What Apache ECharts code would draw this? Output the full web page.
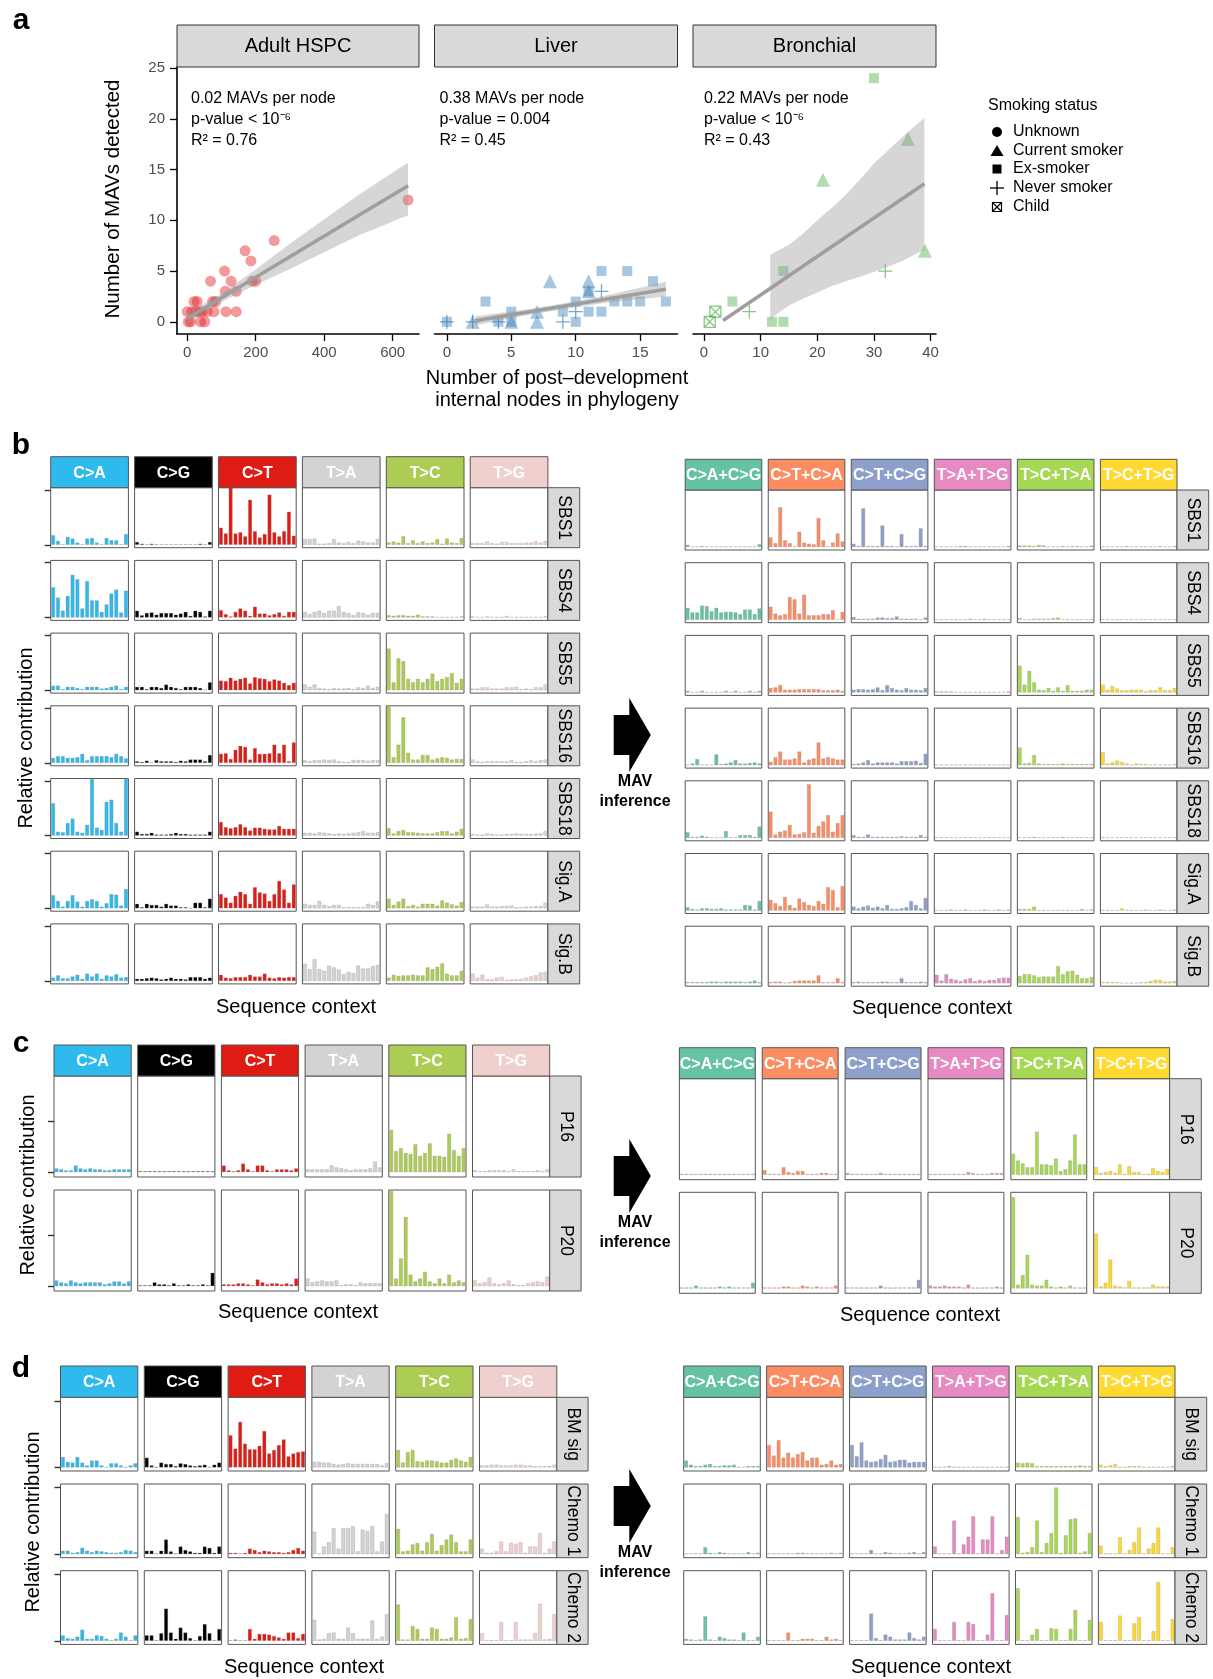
<!DOCTYPE html>
<html>
<head>
<meta charset="utf-8">
<script src="https://cdn.jsdelivr.net/npm/echarts@6/dist/echarts.min.js"></script>
<style>
  html, body { margin: 0; padding: 0; background: #fff; }
  #main { width: 1213px; height: 1679px; }
</style>
</head>
<body>
<div id="main"></div>
<script>
// ---------- panel a : scatter data ----------
const hspcX = [0, 3, 10, 13, 20, 29, 39, 44, 51, 58, 68, 74, 78, 83, 109, 111, 113, 128, 143, 143, 169, 186, 190, 200, 254, 645, 25, 35];
const hspcY = [1, 0, 0, 1, 2, 2, 0, 1, 0, 1, 4, 2, 1, 2, 5, 3, 1, 4, 3, 1, 7, 6, 4, 4, 8, 12, 1, 1];

const liverX = [0, 0, 2, 2, 3, 4, 4, 5, 5, 5, 7, 7, 8, 9, 9, 10, 10, 10, 11, 11, 11, 11, 12, 12, 12, 13, 14, 14, 15, 16, 17];
const liverY = [0, 0, 0, 0, 2, 0, 0, 0, 0, 1, 0, 1, 4, 1, 0, 0, 2, 1, 4, 3, 3, 1, 3, 1, 5, 2, 5, 2, 2, 4, 2];
const liverStatus = ['Never smoker', 'Ex-smoker', 'Never smoker', 'Current smoker', 'Ex-smoker', 'Ex-smoker', 'Never smoker',
  'Ex-smoker', 'Current smoker', 'Ex-smoker', 'Current smoker', 'Current smoker', 'Current smoker', 'Ex-smoker', 'Never smoker',
  'Ex-smoker', 'Ex-smoker', 'Never smoker', 'Current smoker', 'Current smoker', 'Ex-smoker', 'Ex-smoker', 'Never smoker',
  'Ex-smoker', 'Ex-smoker', 'Ex-smoker', 'Ex-smoker', 'Ex-smoker', 'Ex-smoker', 'Ex-smoker', 'Ex-smoker'];

const bronchX = [30, 36, 21, 39, 32, 14, 5, 2, 1, 8, 12, 14];
const bronchY = [24, 18, 14, 7, 5, 5, 2, 1, 0, 1, 0, 0];
const bronchStatus = ['Ex-smoker', 'Current smoker', 'Current smoker', 'Current smoker', 'Never smoker', 'Ex-smoker',
  'Ex-smoker', 'Child', 'Child', 'Never smoker', 'Ex-smoker', 'Ex-smoker'];

// regression lines and confidence bands
const hspcFitX = [3, 645], hspcFitY = [0.4, 13.4];
const hspcBandX = [0, 50, 100, 200, 300, 400, 500, 645];
const hspcBandLo = [-0.2, 0.9, 1.95, 3.65, 5.2, 6.85, 8.5, 10.5];
const hspcBandHi = [0.9, 1.8, 2.8, 5.15, 7.7, 10.1, 12.5, 15.7];

const liverFitX = [2.2, 17], liverFitY = [0.1, 3.2];
const liverBandX = [2.2, 6, 9, 12, 15, 17];
const liverBandLo = [-0.35, 0.6, 1.25, 1.8, 2.25, 2.5];
const liverBandHi = [0.55, 1.2, 1.8, 2.5, 3.35, 3.95];

const bronchFitX = [3.35, 38.9], bronchFitY = [0.13, 13.6];
const bronchBandX = [11.7, 13, 15, 17.5, 20, 22.5, 25, 27.5, 30, 32.5, 35, 38.9];
const bronchBandLo = [0.2, 0.85, 1.6, 2.3, 2.9, 3.5, 4.0, 4.45, 4.9, 5.45, 6.0, 7.1];
const bronchBandHi = [6.6, 7.0, 7.6, 8.7, 10.0, 11.2, 12.5, 14.0, 15.6, 16.9, 18.2, 20.1];

// ---------- panels b-d : 96-channel profiles (16 contexts x 6 types per row) ----------
const contexts = ['A_A', 'A_C', 'A_G', 'A_T', 'C_A', 'C_C', 'C_G', 'C_T', 'G_A', 'G_C', 'G_G', 'G_T', 'T_A', 'T_C', 'T_G', 'T_T'];
const mutTypes = ['C>A', 'C>G', 'C>T', 'T>A', 'T>C', 'T>G'];
const mavTypes = ['C>A+C>G', 'C>T+C>A', 'C>T+C>G', 'T>A+T>G', 'T>C+T>A', 'T>C+T>G'];
const bRows = ['SBS1', 'SBS4', 'SBS5', 'SBS16', 'SBS18', 'Sig.A', 'Sig.B'];
const cRows = ['P16', 'P20'];
const dRows = ['BM sig', 'Chemo 1', 'Chemo 2'];

const sbs1 = [
  [17, 7, 1, 14, 11, 4, 1, 11, 12, 4, 1, 12, 8, 8, 1, 19],
  [5, 2, 1, 2, 1, 1, 1, 1, 1, 1, 1, 1, 1, 2, 1, 5],
  [30, 20, 100, 20, 22, 15, 79, 24, 13, 19, 88, 22, 15, 24, 58, 16],
  [10, 10, 11, 2, 2, 3, 10, 4, 3, 5, 3, 7, 6, 4, 4, 10],
  [4, 6, 4, 15, 3, 8, 3, 6, 3, 4, 10, 2, 11, 4, 3, 12],
  [3, 3, 3, 6, 3, 2, 5, 5, 3, 3, 3, 4, 4, 6, 4, 7]
];
const sbs4 = [
  [53, 35, 12, 38, 75, 67, 16, 64, 30, 30, 10, 23, 42, 49, 9, 47],
  [12, 4, 8, 9, 5, 8, 8, 8, 5, 7, 10, 3, 12, 10, 2, 12],
  [13, 6, 2, 10, 16, 12, 3, 19, 7, 7, 4, 6, 9, 3, 10, 10],
  [10, 6, 10, 12, 8, 12, 12, 20, 10, 8, 4, 9, 8, 5, 8, 8],
  [4, 3, 4, 4, 3, 3, 5, 2, 2, 2, 1, 1, 1, 1, 1, 2],
  [2, 1, 1, 2, 1, 1, 1, 3, 1, 1, 1, 1, 1, 1, 1, 2]
];
const sbs5 = [
  [8, 8, 2, 6, 6, 4, 2, 6, 6, 6, 3, 4, 6, 8, 2, 6],
  [6, 6, 2, 6, 6, 4, 10, 6, 4, 2, 6, 6, 6, 4, 1, 14],
  [17, 16, 22, 17, 20, 22, 12, 23, 21, 20, 16, 19, 17, 13, 9, 13],
  [10, 6, 10, 4, 3, 2, 4, 3, 3, 4, 2, 5, 4, 8, 4, 6],
  [73, 14, 56, 51, 20, 14, 20, 14, 20, 29, 16, 20, 23, 30, 13, 20],
  [3, 3, 5, 5, 3, 3, 3, 5, 5, 6, 2, 3, 2, 5, 5, 10]
];
const sbs16 = [
  [9, 12, 12, 9, 9, 10, 16, 5, 12, 12, 12, 12, 10, 16, 12, 8],
  [3, 2, 4, 1, 5, 3, 3, 3, 2, 4, 3, 6, 6, 6, 3, 14],
  [16, 17, 7, 23, 30, 28, 6, 26, 16, 16, 17, 32, 17, 32, 3, 36],
  [5, 3, 5, 5, 6, 5, 6, 3, 2, 2, 5, 5, 5, 4, 5, 5],
  [100, 10, 32, 80, 18, 6, 6, 14, 14, 6, 8, 10, 9, 6, 7, 7],
  [6, 3, 2, 3, 3, 3, 3, 3, 5, 2, 2, 3, 5, 3, 5, 6]
];
const sbs18 = [
  [57, 7, 6, 22, 30, 7, 5, 19, 100, 14, 10, 59, 63, 22, 7, 100],
  [7, 3, 3, 5, 2, 2, 2, 3, 5, 3, 3, 2, 2, 2, 2, 7],
  [24, 15, 13, 15, 20, 15, 9, 14, 14, 12, 11, 11, 17, 12, 12, 12],
  [5, 5, 4, 6, 5, 4, 3, 4, 3, 4, 5, 6, 8, 5, 5, 6],
  [13, 4, 8, 10, 6, 6, 5, 4, 4, 4, 6, 8, 8, 4, 7, 12],
  [3, 2, 2, 4, 3, 2, 2, 3, 3, 4, 3, 3, 3, 4, 4, 8]
];
const sigA = [
  [23, 13, 3, 13, 23, 12, 3, 13, 16, 13, 3, 9, 25, 24, 5, 34],
  [8, 2, 8, 6, 6, 3, 8, 5, 5, 2, 2, 1, 10, 10, 2, 17],
  [25, 19, 10, 22, 29, 25, 8, 37, 28, 26, 13, 25, 48, 33, 10, 42],
  [8, 6, 6, 13, 6, 4, 6, 6, 2, 2, 2, 2, 2, 8, 6, 12],
  [17, 6, 12, 17, 4, 6, 3, 8, 8, 8, 5, 14, 10, 7, 5, 11],
  [3, 3, 3, 7, 3, 3, 4, 4, 5, 2, 2, 3, 3, 4, 4, 10]
];
const sigB = [
  [6, 10, 5, 5, 8, 11, 4, 13, 8, 13, 4, 10, 8, 12, 6, 7],
  [4, 4, 5, 6, 5, 3, 4, 6, 4, 4, 3, 7, 7, 7, 4, 6],
  [11, 6, 5, 7, 7, 7, 11, 8, 8, 13, 6, 5, 7, 6, 7, 7],
  [30, 21, 38, 21, 18, 27, 24, 20, 12, 16, 14, 27, 22, 22, 26, 28],
  [6, 11, 9, 10, 10, 11, 10, 10, 24, 21, 25, 31, 13, 10, 10, 18],
  [13, 6, 11, 3, 3, 6, 7, 2, 3, 3, 4, 6, 8, 10, 15, 16]
];

const sbs1Mav = [
  [4, 1, 1, 2, 1, 1, 1, 1, 1, 1, 1, 1, 1, 1, 1, 5],
  [17, 7, 70, 12, 7, 1, 27, 8, 6, 5, 51, 12, 1, 8, 24, 10],
  [6, 2, 68, 2, 2, 2, 38, 2, 2, 1, 23, 2, 2, 2, 33, 2],
  [1, 1, 1, 1, 1, 2, 2, 1, 1, 1, 1, 1, 1, 1, 1, 2],
  [3, 3, 3, 2, 4, 3, 1, 1, 1, 2, 1, 2, 2, 1, 1, 3],
  [1, 1, 1, 1, 1, 2, 1, 1, 1, 1, 1, 1, 2, 1, 1, 2]
];
const sbs4Mav = [
  [21, 13, 13, 25, 24, 15, 21, 13, 14, 14, 13, 10, 18, 18, 10, 20],
  [23, 11, 8, 10, 40, 36, 11, 44, 8, 8, 8, 10, 10, 17, 1, 14],
  [5, 2, 2, 2, 2, 4, 4, 3, 3, 6, 2, 2, 2, 2, 1, 4],
  [1, 1, 1, 1, 1, 1, 1, 2, 1, 1, 2, 1, 1, 1, 1, 1],
  [3, 1, 1, 2, 2, 2, 2, 3, 4, 1, 1, 1, 1, 1, 1, 1],
  [1, 1, 1, 1, 1, 1, 1, 1, 1, 1, 1, 1, 1, 1, 1, 1]
];
const sbs5Mav = [
  [3, 1, 1, 3, 1, 1, 1, 1, 3, 1, 3, 1, 1, 3, 1, 3],
  [8, 9, 13, 5, 5, 5, 6, 6, 6, 6, 6, 4, 4, 4, 5, 3],
  [5, 6, 6, 5, 6, 9, 4, 13, 8, 5, 4, 8, 5, 5, 4, 8],
  [2, 2, 2, 2, 1, 1, 1, 1, 1, 1, 1, 1, 1, 1, 1, 2],
  [47, 14, 38, 18, 5, 4, 8, 3, 9, 3, 13, 3, 3, 3, 5, 5],
  [14, 5, 11, 7, 4, 4, 5, 5, 5, 2, 4, 4, 9, 4, 4, 8]
];
const sbs16Mav = [
  [1, 3, 11, 1, 1, 1, 19, 2, 3, 5, 9, 3, 3, 4, 5, 3],
  [6, 14, 24, 10, 10, 12, 24, 5, 10, 12, 40, 12, 14, 12, 10, 10],
  [2, 3, 5, 9, 3, 5, 5, 5, 5, 3, 7, 7, 7, 8, 4, 20],
  [1, 1, 1, 1, 1, 1, 1, 1, 1, 1, 1, 1, 1, 1, 1, 1],
  [31, 3, 4, 18, 3, 2, 2, 2, 2, 3, 2, 2, 2, 2, 2, 2],
  [23, 3, 5, 8, 6, 3, 1, 3, 2, 2, 1, 1, 1, 1, 1, 2]
];
const sbs18Mav = [
  [10, 2, 2, 4, 2, 1, 1, 1, 12, 1, 1, 5, 5, 5, 2, 20],
  [46, 6, 11, 13, 23, 6, 7, 10, 94, 9, 21, 29, 40, 11, 26, 40],
  [5, 2, 2, 6, 2, 2, 2, 2, 2, 2, 3, 2, 2, 2, 5, 2],
  [1, 1, 1, 1, 1, 1, 1, 1, 1, 1, 1, 1, 1, 1, 1, 1],
  [1, 1, 1, 2, 1, 1, 1, 1, 1, 2, 1, 1, 1, 1, 1, 1],
  [1, 1, 1, 1, 1, 1, 1, 1, 1, 1, 1, 1, 1, 1, 1, 1]
];
const sigAMav = [
  [6, 3, 2, 4, 4, 3, 3, 4, 2, 2, 2, 2, 10, 9, 2, 17],
  [19, 13, 8, 24, 10, 5, 21, 15, 10, 8, 17, 12, 41, 36, 6, 43],
  [7, 4, 7, 9, 5, 7, 4, 10, 3, 3, 4, 6, 17, 10, 4, 22],
  [1, 1, 1, 2, 1, 1, 2, 1, 1, 1, 2, 1, 1, 2, 1, 2],
  [3, 3, 3, 7, 1, 1, 1, 1, 1, 1, 1, 1, 1, 3, 1, 2],
  [1, 1, 1, 1, 4, 1, 1, 1, 1, 2, 1, 1, 2, 1, 1, 2]
];
const sigBMav = [
  [2, 2, 2, 2, 2, 3, 3, 2, 3, 3, 3, 3, 2, 3, 5, 2],
  [2, 3, 3, 1, 2, 4, 5, 5, 5, 5, 14, 2, 2, 2, 9, 2],
  [2, 3, 2, 2, 2, 2, 3, 3, 2, 2, 9, 2, 2, 2, 3, 2],
  [15, 5, 16, 8, 6, 4, 7, 9, 4, 6, 4, 6, 6, 9, 10, 10],
  [13, 16, 16, 14, 11, 12, 12, 12, 30, 16, 21, 22, 15, 9, 9, 11],
  [2, 2, 2, 2, 1, 1, 1, 1, 2, 2, 4, 6, 6, 3, 3, 4]
];

const p16 = [
  [4, 3, 2, 2, 7, 4, 3, 4, 3, 3, 2, 2, 3, 3, 3, 3],
  [1, 1, 1, 1, 1, 1, 1, 1, 1, 1, 1, 1, 1, 1, 1, 1],
  [7, 2, 1, 2, 9, 3, 1, 7, 7, 2, 1, 3, 3, 3, 2, 4],
  [3, 3, 3, 3, 3, 7, 5, 4, 3, 2, 3, 3, 3, 4, 11, 5],
  [44, 22, 25, 20, 19, 29, 17, 20, 30, 17, 17, 16, 40, 23, 17, 25],
  [2, 1, 1, 2, 2, 2, 2, 1, 3, 1, 1, 1, 1, 2, 1, 3]
];
const p20 = [
  [6, 4, 3, 6, 4, 3, 4, 4, 4, 4, 2, 3, 5, 5, 3, 5],
  [1, 1, 1, 4, 2, 2, 1, 3, 1, 1, 2, 1, 1, 2, 1, 14],
  [2, 2, 2, 3, 3, 2, 1, 7, 4, 2, 3, 3, 2, 3, 2, 8],
  [8, 4, 5, 6, 5, 5, 6, 1, 2, 2, 1, 4, 3, 3, 3, 3],
  [100, 8, 29, 72, 12, 5, 8, 15, 5, 3, 8, 3, 12, 4, 6, 4],
  [6, 3, 4, 9, 3, 2, 3, 6, 2, 1, 1, 3, 4, 5, 4, 10]
];
const p16Mav = [
  [1, 1, 1, 1, 1, 1, 1, 1, 1, 1, 1, 1, 1, 1, 1, 1],
  [5, 1, 1, 1, 8, 3, 2, 4, 4, 1, 1, 1, 2, 2, 1, 1],
  [2, 1, 1, 1, 1, 1, 1, 2, 1, 1, 1, 1, 1, 1, 1, 1],
  [1, 1, 1, 1, 1, 1, 1, 1, 3, 2, 1, 1, 1, 2, 2, 2],
  [22, 15, 12, 8, 8, 45, 11, 11, 10, 17, 4, 6, 15, 42, 11, 11],
  [8, 2, 3, 4, 2, 11, 1, 9, 3, 3, 1, 1, 7, 4, 3, 6]
];
const p20Mav = [
  [1, 1, 1, 3, 1, 1, 1, 1, 2, 1, 2, 1, 1, 1, 1, 6],
  [1, 1, 1, 1, 2, 2, 1, 1, 3, 2, 1, 2, 1, 1, 1, 3],
  [1, 1, 1, 1, 1, 1, 1, 3, 1, 1, 1, 1, 1, 1, 1, 9],
  [3, 2, 2, 3, 2, 2, 2, 1, 4, 1, 1, 1, 1, 1, 2, 1],
  [95, 4, 14, 35, 4, 3, 3, 9, 2, 1, 2, 1, 3, 1, 1, 1],
  [57, 2, 6, 30, 3, 2, 1, 8, 1, 1, 1, 1, 4, 2, 2, 2]
];

const bmSig = [
  [15, 8, 7, 15, 7, 3, 10, 10, 3, 1, 6, 6, 3, 1, 3, 6],
  [14, 3, 1, 7, 5, 5, 2, 6, 5, 3, 2, 3, 4, 1, 4, 7],
  [46, 27, 65, 34, 26, 26, 31, 52, 20, 25, 32, 40, 16, 20, 22, 23],
  [8, 8, 7, 7, 5, 4, 5, 6, 5, 5, 5, 5, 5, 5, 3, 6],
  [25, 7, 22, 25, 9, 8, 10, 10, 9, 7, 7, 11, 13, 10, 8, 15],
  [3, 3, 4, 4, 3, 3, 3, 4, 4, 3, 3, 2, 2, 2, 2, 4]
];
const chemo1 = [
  [5, 5, 2, 3, 9, 5, 3, 5, 4, 3, 2, 2, 3, 6, 5, 3],
  [5, 5, 1, 5, 21, 4, 1, 11, 6, 4, 2, 2, 11, 9, 2, 11],
  [2, 2, 1, 2, 8, 6, 3, 5, 4, 3, 3, 2, 3, 6, 9, 5],
  [32, 1, 11, 17, 37, 8, 37, 37, 40, 4, 35, 33, 40, 4, 18, 57],
  [36, 4, 5, 14, 16, 5, 17, 29, 5, 13, 21, 28, 17, 4, 4, 21],
  [8, 2, 2, 4, 18, 4, 16, 15, 17, 2, 11, 11, 30, 2, 8, 18]
];
const chemo2 = [
  [8, 4, 3, 6, 16, 3, 3, 8, 7, 3, 1, 3, 12, 6, 1, 8],
  [8, 8, 1, 11, 46, 12, 3, 19, 12, 4, 1, 7, 24, 11, 1, 17],
  [1, 2, 1, 1, 17, 3, 10, 10, 9, 7, 5, 3, 12, 12, 4, 10],
  [30, 2, 3, 11, 12, 3, 3, 19, 11, 3, 3, 3, 29, 3, 6, 38],
  [52, 2, 2, 21, 17, 3, 3, 19, 17, 3, 3, 5, 34, 3, 4, 31],
  [11, 1, 1, 1, 27, 1, 1, 27, 2, 2, 2, 11, 53, 2, 3, 38]
];
const bmSigMav = [
  [10, 4, 2, 2, 4, 5, 2, 2, 3, 3, 4, 1, 1, 2, 2, 2],
  [32, 17, 39, 14, 21, 14, 19, 22, 10, 14, 14, 4, 5, 10, 4, 5],
  [32, 16, 36, 10, 8, 9, 12, 18, 8, 9, 11, 11, 7, 8, 8, 8],
  [1, 1, 1, 2, 1, 1, 1, 1, 1, 1, 1, 1, 1, 1, 1, 1],
  [7, 6, 7, 6, 2, 2, 2, 2, 2, 2, 2, 2, 2, 3, 2, 2],
  [4, 2, 3, 5, 1, 1, 2, 2, 2, 1, 1, 1, 1, 1, 1, 2]
];
const chemo1Mav = [
  [1, 1, 1, 1, 10, 2, 1, 3, 2, 1, 1, 1, 1, 3, 1, 2],
  [1, 1, 1, 1, 1, 1, 2, 2, 1, 1, 1, 1, 1, 2, 1, 2],
  [1, 1, 1, 1, 6, 1, 1, 3, 2, 1, 1, 1, 2, 3, 1, 3],
  [11, 1, 1, 1, 48, 1, 14, 25, 54, 1, 21, 21, 54, 1, 6, 25],
  [53, 2, 3, 10, 48, 3, 16, 30, 95, 2, 27, 50, 51, 2, 4, 30],
  [12, 1, 1, 1, 24, 1, 6, 17, 38, 1, 8, 16, 38, 1, 1, 10]
];
const chemo2Mav = [
  [3, 2, 1, 2, 35, 2, 1, 6, 4, 2, 2, 1, 12, 1, 1, 6],
  [1, 1, 1, 1, 12, 1, 1, 3, 3, 3, 1, 1, 6, 2, 3, 1],
  [1, 1, 1, 1, 39, 4, 1, 9, 6, 2, 2, 2, 12, 4, 2, 6],
  [17, 1, 1, 1, 27, 1, 1, 27, 24, 1, 1, 9, 68, 1, 1, 37],
  [75, 1, 1, 9, 17, 1, 1, 18, 17, 1, 1, 17, 44, 1, 1, 30],
  [27, 1, 1, 1, 36, 1, 1, 25, 34, 1, 1, 14, 84, 1, 1, 31]
];

// ---------- styling ----------
const FONT = '"Liberation Sans", Arial, Helvetica, sans-serif';
const mutColors = ['#2EBAED', '#000000', '#DE1C14', '#D4D2D2', '#ADCC54', '#F0D0CE'];
const mavColors = ['#66C2A5', '#FC8D62', '#8DA0CB', '#E78AC3', '#A6D854', '#FFD92F'];
const PLUS = 'path://M5,0L5,10M0,5L10,5';
const BOXX = 'path://M0,0L10,0L10,10L0,10ZM0,0L10,10M10,0L0,10';

const grid = [], xAxis = [], yAxis = [], series = [], graphic = [];

function txt(x, y, text, opt) {
  opt = opt || {};
  graphic.push({
    type: 'text', x: x, y: y, rotation: opt.rot || 0, z: 20,
    style: {
      text: text, fill: opt.color || '#000',
      font: (opt.weight || 'normal') + ' ' + (opt.size || 16) + 'px ' + FONT,
      align: opt.align || 'center', verticalAlign: opt.va || 'middle'
    }
  });
}
function box(x, y, w, h, fill, stroke) {
  graphic.push({
    type: 'rect', z: 15, shape: { x: x, y: y, width: w, height: h },
    style: { fill: fill, stroke: stroke || '#555', lineWidth: 1 }
  });
}

// ---------- panel a ----------
function symbolFor(s) {
  return { 'Unknown': 'circle', 'Current smoker': 'triangle', 'Ex-smoker': 'rect', 'Never smoker': PLUS, 'Child': BOXX }[s];
}
function pointItems(xs, ys, status, fill, line) {
  return xs.map(function (x, i) {
    const s = status ? status[i] : 'Unknown';
    const open = s === 'Never smoker' || s === 'Child';
    const size = s === 'Current smoker' ? 14 : s === 'Unknown' ? 11 : s === 'Never smoker' ? 14 : s === 'Child' ? 11 : 10;
    return {
      value: [x, ys[i]], symbol: symbolFor(s), symbolSize: size,
      itemStyle: open ? { color: 'rgba(0,0,0,0)', borderColor: line, borderWidth: 1.3 } : { color: fill }
    };
  });
}

const scatterPanels = [
  { name: 'Adult HSPC', left: 177, width: 242, min: -30, max: 677, ticks: [0, 200, 400, 600], yAxis: true,
    xs: hspcX, ys: hspcY, st: null, fill: 'rgba(228,26,28,0.55)', line: 'rgba(228,26,28,0.8)',
    fitX: hspcFitX, fitY: hspcFitY, bx: hspcBandX, blo: hspcBandLo, bhi: hspcBandHi,
    note: ['0.02 MAVs per node', 'p-value < 10\u207B\u2076', 'R\u00B2 = 0.76'], noteX: 191 },
  { name: 'Liver', left: 434.5, width: 243, min: -0.96, max: 17.9, ticks: [0, 5, 10, 15], yAxis: false,
    xs: liverX, ys: liverY, st: liverStatus, fill: 'rgba(55,126,184,0.55)', line: 'rgba(55,126,184,0.85)',
    fitX: liverFitX, fitY: liverFitY, bx: liverBandX, blo: liverBandLo, bhi: liverBandHi,
    note: ['0.38 MAVs per node', 'p-value = 0.004', 'R\u00B2 = 0.45'], noteX: 439.5 },
  { name: 'Bronchial', left: 693, width: 243, min: -1.95, max: 40.95, ticks: [0, 10, 20, 30, 40], yAxis: false,
    xs: bronchX, ys: bronchY, st: bronchStatus, fill: 'rgba(77,175,74,0.55)', line: 'rgba(77,175,74,0.85)',
    fitX: bronchFitX, fitY: bronchFitY, bx: bronchBandX, blo: bronchBandLo, bhi: bronchBandHi,
    note: ['0.22 MAVs per node', 'p-value < 10\u207B\u2076', 'R\u00B2 = 0.43'], noteX: 704 }
];

scatterPanels.forEach(function (p) {
  const gi = grid.length;
  grid.push({ left: p.left, top: 67, width: p.width, height: 267, show: false });
  xAxis.push({
    gridIndex: gi, type: 'value', min: p.min, max: p.max,
    axisLine: { show: true, onZero: false, lineStyle: { color: '#000', width: 1.6 } },
    axisTick: { show: true, length: 7, customValues: p.ticks, lineStyle: { color: '#000', width: 1.3 } },
    axisLabel: { customValues: p.ticks, color: '#4d4d4d', fontSize: 15, fontFamily: FONT, margin: 11 },
    splitLine: { show: false }
  });
  yAxis.push({
    gridIndex: gi, type: 'value', min: -1.2, max: 25.1, show: p.yAxis,
    axisLine: { show: true, onZero: false, lineStyle: { color: '#000', width: 1.6 } },
    axisTick: { show: true, length: 7, customValues: [0, 5, 10, 15, 20, 25], lineStyle: { color: '#000', width: 1.3 } },
    axisLabel: { customValues: [0, 5, 10, 15, 20, 25], color: '#4d4d4d', fontSize: 15, fontFamily: FONT, margin: 12 },
    splitLine: { show: false }
  });
  series.push({
    type: 'scatter', xAxisIndex: gi, yAxisIndex: gi, z: 2, silent: true,
    data: pointItems(p.xs, p.ys, p.st, p.fill, p.line)
  });
  series.push({
    type: 'custom', xAxisIndex: gi, yAxisIndex: gi, z: 3, silent: true,
    data: p.bx.map(function (x, i) { return [x, p.blo[i], p.bhi[i]]; }),
    renderItem: function (params, api) {
      if (params.dataIndex !== 0) return null;
      const pts = [];
      for (let i = 0; i < p.bx.length; i++) pts.push(api.coord([p.bx[i], p.bhi[i]]));
      for (let i = p.bx.length - 1; i >= 0; i--) pts.push(api.coord([p.bx[i], p.blo[i]]));
      return { type: 'polygon', shape: { points: pts }, style: { fill: 'rgba(153,153,153,0.4)' } };
    }
  });
  series.push({
    type: 'line', xAxisIndex: gi, yAxisIndex: gi, z: 4, silent: true, symbol: 'none',
    data: p.fitX.map(function (x, i) { return [x, p.fitY[i]]; }),
    lineStyle: { color: '#9e9e9e', width: 3.6 }
  });
  box(p.left, 25, p.width, 42, '#d9d9d9', '#333');
  txt(p.left + p.width / 2, 46, p.name, { size: 20 });
  p.note.forEach(function (t, k) { txt(p.noteX, 99 + k * 20.7, t, { size: 16, align: 'left' }); });
});

txt(113, 199, 'Number of MAVs detected', { size: 20.5, rot: Math.PI / 2 });
txt(557, 378, 'Number of post\u2013development', { size: 20 });
txt(557, 400, 'internal nodes in phylogeny', { size: 20 });

// legend
txt(988, 106, 'Smoking status', { size: 16, align: 'left' });
const legY = [132, 151, 169, 188, 207];
const legText = ['Unknown', 'Current smoker', 'Ex-smoker', 'Never smoker', 'Child'];
legText.forEach(function (t, k) { txt(1013, legY[k], t, { size: 16, align: 'left' }); });
graphic.push({ type: 'circle', z: 20, shape: { cx: 997, cy: legY[0], r: 5 }, style: { fill: '#000' } });
graphic.push({ type: 'polygon', z: 20, shape: { points: [[997, legY[1] - 6], [1003.5, legY[1] + 5], [990.5, legY[1] + 5]] }, style: { fill: '#000' } });
graphic.push({ type: 'rect', z: 20, shape: { x: 992.5, y: legY[2] - 4.5, width: 9, height: 9 }, style: { fill: '#000' } });
graphic.push({ type: 'line', z: 20, shape: { x1: 990, y1: legY[3], x2: 1004, y2: legY[3] }, style: { stroke: '#000', lineWidth: 1.3 } });
graphic.push({ type: 'line', z: 20, shape: { x1: 997, y1: legY[3] - 7, x2: 997, y2: legY[3] + 7 }, style: { stroke: '#000', lineWidth: 1.3 } });
graphic.push({ type: 'rect', z: 20, shape: { x: 992.5, y: legY[4] - 4.5, width: 9, height: 9 }, style: { fill: 'none', stroke: '#000', lineWidth: 1.2 } });
graphic.push({ type: 'line', z: 20, shape: { x1: 992.5, y1: legY[4] - 4.5, x2: 1001.5, y2: legY[4] + 4.5 }, style: { stroke: '#000', lineWidth: 1.2 } });
graphic.push({ type: 'line', z: 20, shape: { x1: 1001.5, y1: legY[4] - 4.5, x2: 992.5, y2: legY[4] + 4.5 }, style: { stroke: '#000', lineWidth: 1.2 } });

// ---------- panels b-d ----------
function facetGroup(g) {
  g.rows.forEach(function (row, r) {
    const top = g.y0 + r * g.rowPitch;
    row.forEach(function (vals, c) {
      const left = g.x0 + c * g.colPitch;
      const gi = grid.length;
      grid.push({ left: left, top: top, width: g.colW, height: g.rowH, show: true, borderColor: '#555', borderWidth: 1, backgroundColor: '#fff' });
      xAxis.push({ gridIndex: gi, type: 'category', data: contexts, show: false });
      yAxis.push({
        gridIndex: gi, type: 'value', min: -5, max: 100, show: !!(g.ticks && c === 0),
        axisLine: { show: false }, axisLabel: { show: false }, splitLine: { show: false },
        axisTick: { show: true, length: 6, customValues: [0, g.tickTop || 95], lineStyle: { color: '#333', width: 1.4 } }
      });
      series.push({
        type: 'bar', xAxisIndex: gi, yAxisIndex: gi, data: vals, barCategoryGap: '20%', silent: true,
        itemStyle: { color: g.colors[c], borderColor: 'rgba(140,140,140,0.55)', borderWidth: 0.5 }
      });
    });
    const sx = g.x0 + 5 * g.colPitch + g.colW;
    box(sx, top, g.stripW, g.rowH, '#d9d9d9');
    txt(sx + g.stripW / 2, top + g.rowH / 2, g.rowNames[r], { size: 17.5, rot: -Math.PI / 2 });
  });
  g.colNames.forEach(function (name, c) {
    const left = g.x0 + c * g.colPitch;
    box(left, g.stripY, g.colW, g.stripH, g.colors[c]);
    txt(left + g.colW / 2, g.stripY + g.stripH / 2 + 1, name, { size: 16, weight: 'bold', color: '#fff' });
  });
  txt(g.ctxX, g.ctxY, 'Sequence context', { size: 20 });
}

function arrow(cy) {
  graphic.push({
    type: 'polygon', z: 20,
    shape: { points: [[613.7, cy - 20], [629.3, cy - 20], [629.3, cy - 37], [650.8, cy], [629.3, cy + 37], [629.3, cy + 20], [613.7, cy + 20]] },
    style: { fill: '#000' }
  });
  txt(635, cy + 47, 'MAV', { size: 16, weight: 'bold' });
  txt(635, cy + 67, 'inference', { size: 16, weight: 'bold' });
}

// b
facetGroup({ rows: [sbs1, sbs4, sbs5, sbs16, sbs18, sigA, sigB], rowNames: bRows, colNames: mutTypes, colors: mutColors,
  x0: 50.7, colW: 77.7, colPitch: 83.9, y0: 487.7, rowH: 60, rowPitch: 72.7, stripY: 456.7, stripH: 31, stripW: 31.8,
  ticks: true, tickTop: 96, ctxX: 296, ctxY: 1007 });
facetGroup({ rows: [sbs1Mav, sbs4Mav, sbs5Mav, sbs16Mav, sbs18Mav, sigAMav, sigBMav], rowNames: bRows, colNames: mavTypes, colors: mavColors,
  x0: 685.2, colW: 76.6, colPitch: 83.04, y0: 490, rowH: 60, rowPitch: 72.7, stripY: 459.3, stripH: 30.7, stripW: 31.7,
  ticks: false, ctxX: 932, ctxY: 1008 });
arrow(735);
txt(26, 738, 'Relative contribution', { size: 20, rot: Math.PI / 2 });

// c
facetGroup({ rows: [p16, p20], rowNames: cRows, colNames: mutTypes, colors: mutColors,
  x0: 54, colW: 77.2, colPitch: 83.7, y0: 1076, rowH: 101, rowPitch: 114, stripY: 1045, stripH: 31, stripW: 31.4,
  ticks: true, tickTop: 53, ctxX: 298, ctxY: 1312 });
facetGroup({ rows: [p16Mav, p20Mav], rowNames: cRows, colNames: mavTypes, colors: mavColors,
  x0: 679.4, colW: 75.9, colPitch: 82.86, y0: 1078.7, rowH: 101, rowPitch: 113.6, stripY: 1047.7, stripH: 31, stripW: 31.7,
  ticks: false, ctxX: 920, ctxY: 1315 });
arrow(1176);
txt(28, 1185, 'Relative contribution', { size: 20, rot: Math.PI / 2 });

// d
facetGroup({ rows: [bmSig, chemo1, chemo2], rowNames: dRows, colNames: mutTypes, colors: mutColors,
  x0: 60.5, colW: 77.3, colPitch: 83.8, y0: 1397.3, rowH: 73.7, rowPitch: 86.7, stripY: 1366, stripH: 31.3, stripW: 31.3,
  ticks: true, tickTop: 95, ctxX: 304, ctxY: 1667 });
facetGroup({ rows: [bmSigMav, chemo1Mav, chemo2Mav], rowNames: dRows, colNames: mavTypes, colors: mavColors,
  x0: 683.7, colW: 76.6, colPitch: 82.94, y0: 1397.3, rowH: 73.7, rowPitch: 86.7, stripY: 1366, stripH: 31.3, stripW: 31.7,
  ticks: false, ctxX: 931, ctxY: 1667 });
arrow(1506);
txt(33, 1522, 'Relative contribution', { size: 20, rot: Math.PI / 2 });

// panel letters
txt(21, 21, 'a', { size: 30, weight: 'bold' });
txt(21, 446, 'b', { size: 30, weight: 'bold' });
txt(21, 1044, 'c', { size: 30, weight: 'bold' });
txt(21, 1369, 'd', { size: 30, weight: 'bold' });

const chart = echarts.init(document.getElementById('main'), null, { renderer: 'canvas', width: 1213, height: 1679 });
chart.setOption({
  backgroundColor: '#fff',
  animation: false,
  textStyle: { fontFamily: FONT },
  grid: grid,
  xAxis: xAxis,
  yAxis: yAxis,
  series: series,
  graphic: { elements: graphic }
});
</script>
</body>
</html>
